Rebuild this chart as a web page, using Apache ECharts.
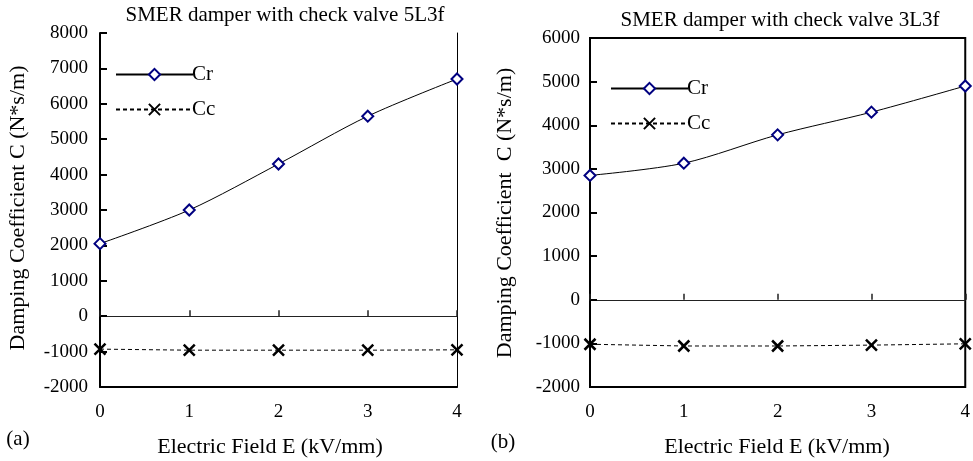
<!DOCTYPE html>
<html>
<head>
<meta charset="utf-8">
<script src="https://cdn.jsdelivr.net/npm/echarts@6/dist/echarts.min.js"></script>
<style>
html,body{margin:0;padding:0;background:#fff;}
#chart{width:973px;height:461px;}
</style>
</head>
<body>
<div id="chart"></div>
<script>
// Electric field values (kV/mm)
var fieldE = [0, 1, 2, 3, 4];
// (a) SMER damper with check valve 5L3f
var crA = [2050, 3000, 4300, 5650, 6700];
var ccA = [-930, -960, -960, -960, -950];
// (b) SMER damper with check valve 3L3f
var crB = [2850, 3130, 3780, 4300, 4900];
var ccB = [-1020, -1060, -1060, -1040, -1010];
// axis ranges / tick labels
var yTicksA = [-2000, -1000, 0, 1000, 2000, 3000, 4000, 5000, 6000, 7000, 8000];
var yTicksB = [-2000, -1000, 0, 1000, 2000, 3000, 4000, 5000, 6000];
var xTicks = [0, 1, 2, 3, 4];
var titles = ['SMER damper with check valve 5L3f', 'SMER damper with check valve 3L3f'];
var yTitles = ['Damping Coefficient C (N*s/m)', 'Damping Coefficient  C (N*s/m)'];
var xTitle = 'Electric Field E (kV/mm)';
var panelLabels = ['(a)', '(b)'];

function pairs(xs, ys) { return xs.map(function (x, i) { return [x, ys[i]]; }); }

var FONT = "'Liberation Serif', 'Times New Roman', serif";
var NAVY = '#000080';
var XPATH = 'path://M0,0L10,10M10,0L0,10';

function crSeries(xi, yi, data) {
  return {
    name: 'Cr', type: 'line', xAxisIndex: xi, yAxisIndex: yi,
    data: data, smooth: 0.3,
    symbol: 'diamond', symbolSize: 11,
    lineStyle: { color: '#000', width: 1 },
    itemStyle: { color: '#fff', borderColor: NAVY, borderWidth: 2 },
    z: 5
  };
}
function ccSeries(xi, yi, data) {
  return {
    name: 'Cc', type: 'line', xAxisIndex: xi, yAxisIndex: yi,
    data: data,
    symbol: XPATH, symbolSize: 11,
    lineStyle: { color: '#000', width: 1, type: [4, 3] },
    itemStyle: { color: 'none', borderColor: '#000', borderWidth: 2.5 },
    z: 5
  };
}
function plain(v) { return String(v); }

function bottomX(gi, bold) {
  return {
    gridIndex: gi, type: 'value', position: 'bottom',
    min: xTicks[0], max: xTicks[xTicks.length - 1], interval: 1,
    axisLine: { show: bold, onZero: false, lineStyle: { color: '#000', width: 2 } },
    axisTick: { show: false },
    splitLine: { show: false },
    axisLabel: { color: '#000', fontFamily: FONT, fontSize: 19, margin: 16, formatter: plain }
  };
}
function zeroX(gi) {
  return {
    gridIndex: gi, type: 'value', position: 'top',
    min: xTicks[0], max: xTicks[xTicks.length - 1], interval: 1,
    axisLine: { show: true, onZero: true, lineStyle: { color: '#222', width: 1 } },
    axisTick: { show: true, inside: false, length: 6, lineStyle: { color: '#222', width: 1.5 } },
    splitLine: { show: false },
    axisLabel: { show: false }
  };
}
function leftY(gi, ticks, margin) {
  return {
    gridIndex: gi, type: 'value', position: 'left',
    min: ticks[0], max: ticks[ticks.length - 1], interval: 1000,
    axisLine: { show: true, onZero: false, lineStyle: { color: '#000', width: 2 } },
    axisTick: { show: true, inside: true, length: 7, lineStyle: { color: '#000', width: 2 } },
    splitLine: { show: false },
    axisLabel: { color: '#000', fontFamily: FONT, fontSize: 19, margin: margin, formatter: plain }
  };
}
function rightY(gi, ticks) {
  return {
    gridIndex: gi, type: 'value', position: 'right',
    min: ticks[0], max: ticks[ticks.length - 1], interval: 1000,
    axisLine: { show: true, onZero: false, lineStyle: { color: '#000', width: 1 } },
    axisTick: { show: false },
    splitLine: { show: false },
    axisLabel: { show: false }
  };
}

function txt(x, y, s, size, rot) {
  return {
    type: 'text', x: x, y: y, rotation: rot || 0,
    style: { text: s, fill: '#000', fontFamily: FONT, fontSize: size, align: 'center', verticalAlign: 'middle' }
  };
}

function legendAt(left, top) {
  return {
    orient: 'vertical', left: left, top: top, itemWidth: 77, itemHeight: 14, itemGap: 14,
    data: ['Cr', 'Cc'], selectedMode: false,
    textStyle: { color: '#000', fontFamily: FONT, fontSize: 21, padding: [0, 0, 0, -6] }
  };
}

var chart = echarts.init(document.getElementById('chart'), null, { renderer: 'canvas' });
chart.setOption({
  animation: false,
  backgroundColor: '#fff',
  grid: [
    { left: 100, top: 33, width: 357, height: 354, show: false },
    { left: 590, top: 38, width: 377, height: 349, show: true, borderColor: '#000', borderWidth: 2, backgroundColor: 'transparent' }
  ],
  xAxis: [bottomX(0, true), zeroX(0), bottomX(1, false), zeroX(1)],
  yAxis: [leftY(0, yTicksA, 12), rightY(0, yTicksA), leftY(1, yTicksB, 10)],
  legend: [legendAt(110, 59), legendAt(605, 73)],
  series: [
    crSeries(0, 0, pairs(fieldE, crA)),
    ccSeries(0, 0, pairs(fieldE, ccA)),
    crSeries(2, 2, pairs(fieldE, crB)),
    ccSeries(2, 2, pairs(fieldE, ccB))
  ],
  graphic: [
    txt(285, 15, titles[0], 21),
    txt(780, 20, titles[1], 21),
    txt(270, 447, xTitle, 22),
    txt(777, 447, xTitle, 22),
    txt(18, 208, yTitles[0], 22, Math.PI / 2),
    txt(505, 213, yTitles[1], 22, Math.PI / 2),
    txt(18, 439, panelLabels[0], 21),
    txt(503, 442, panelLabels[1], 21)
  ]
});
</script>
</body>
</html>
